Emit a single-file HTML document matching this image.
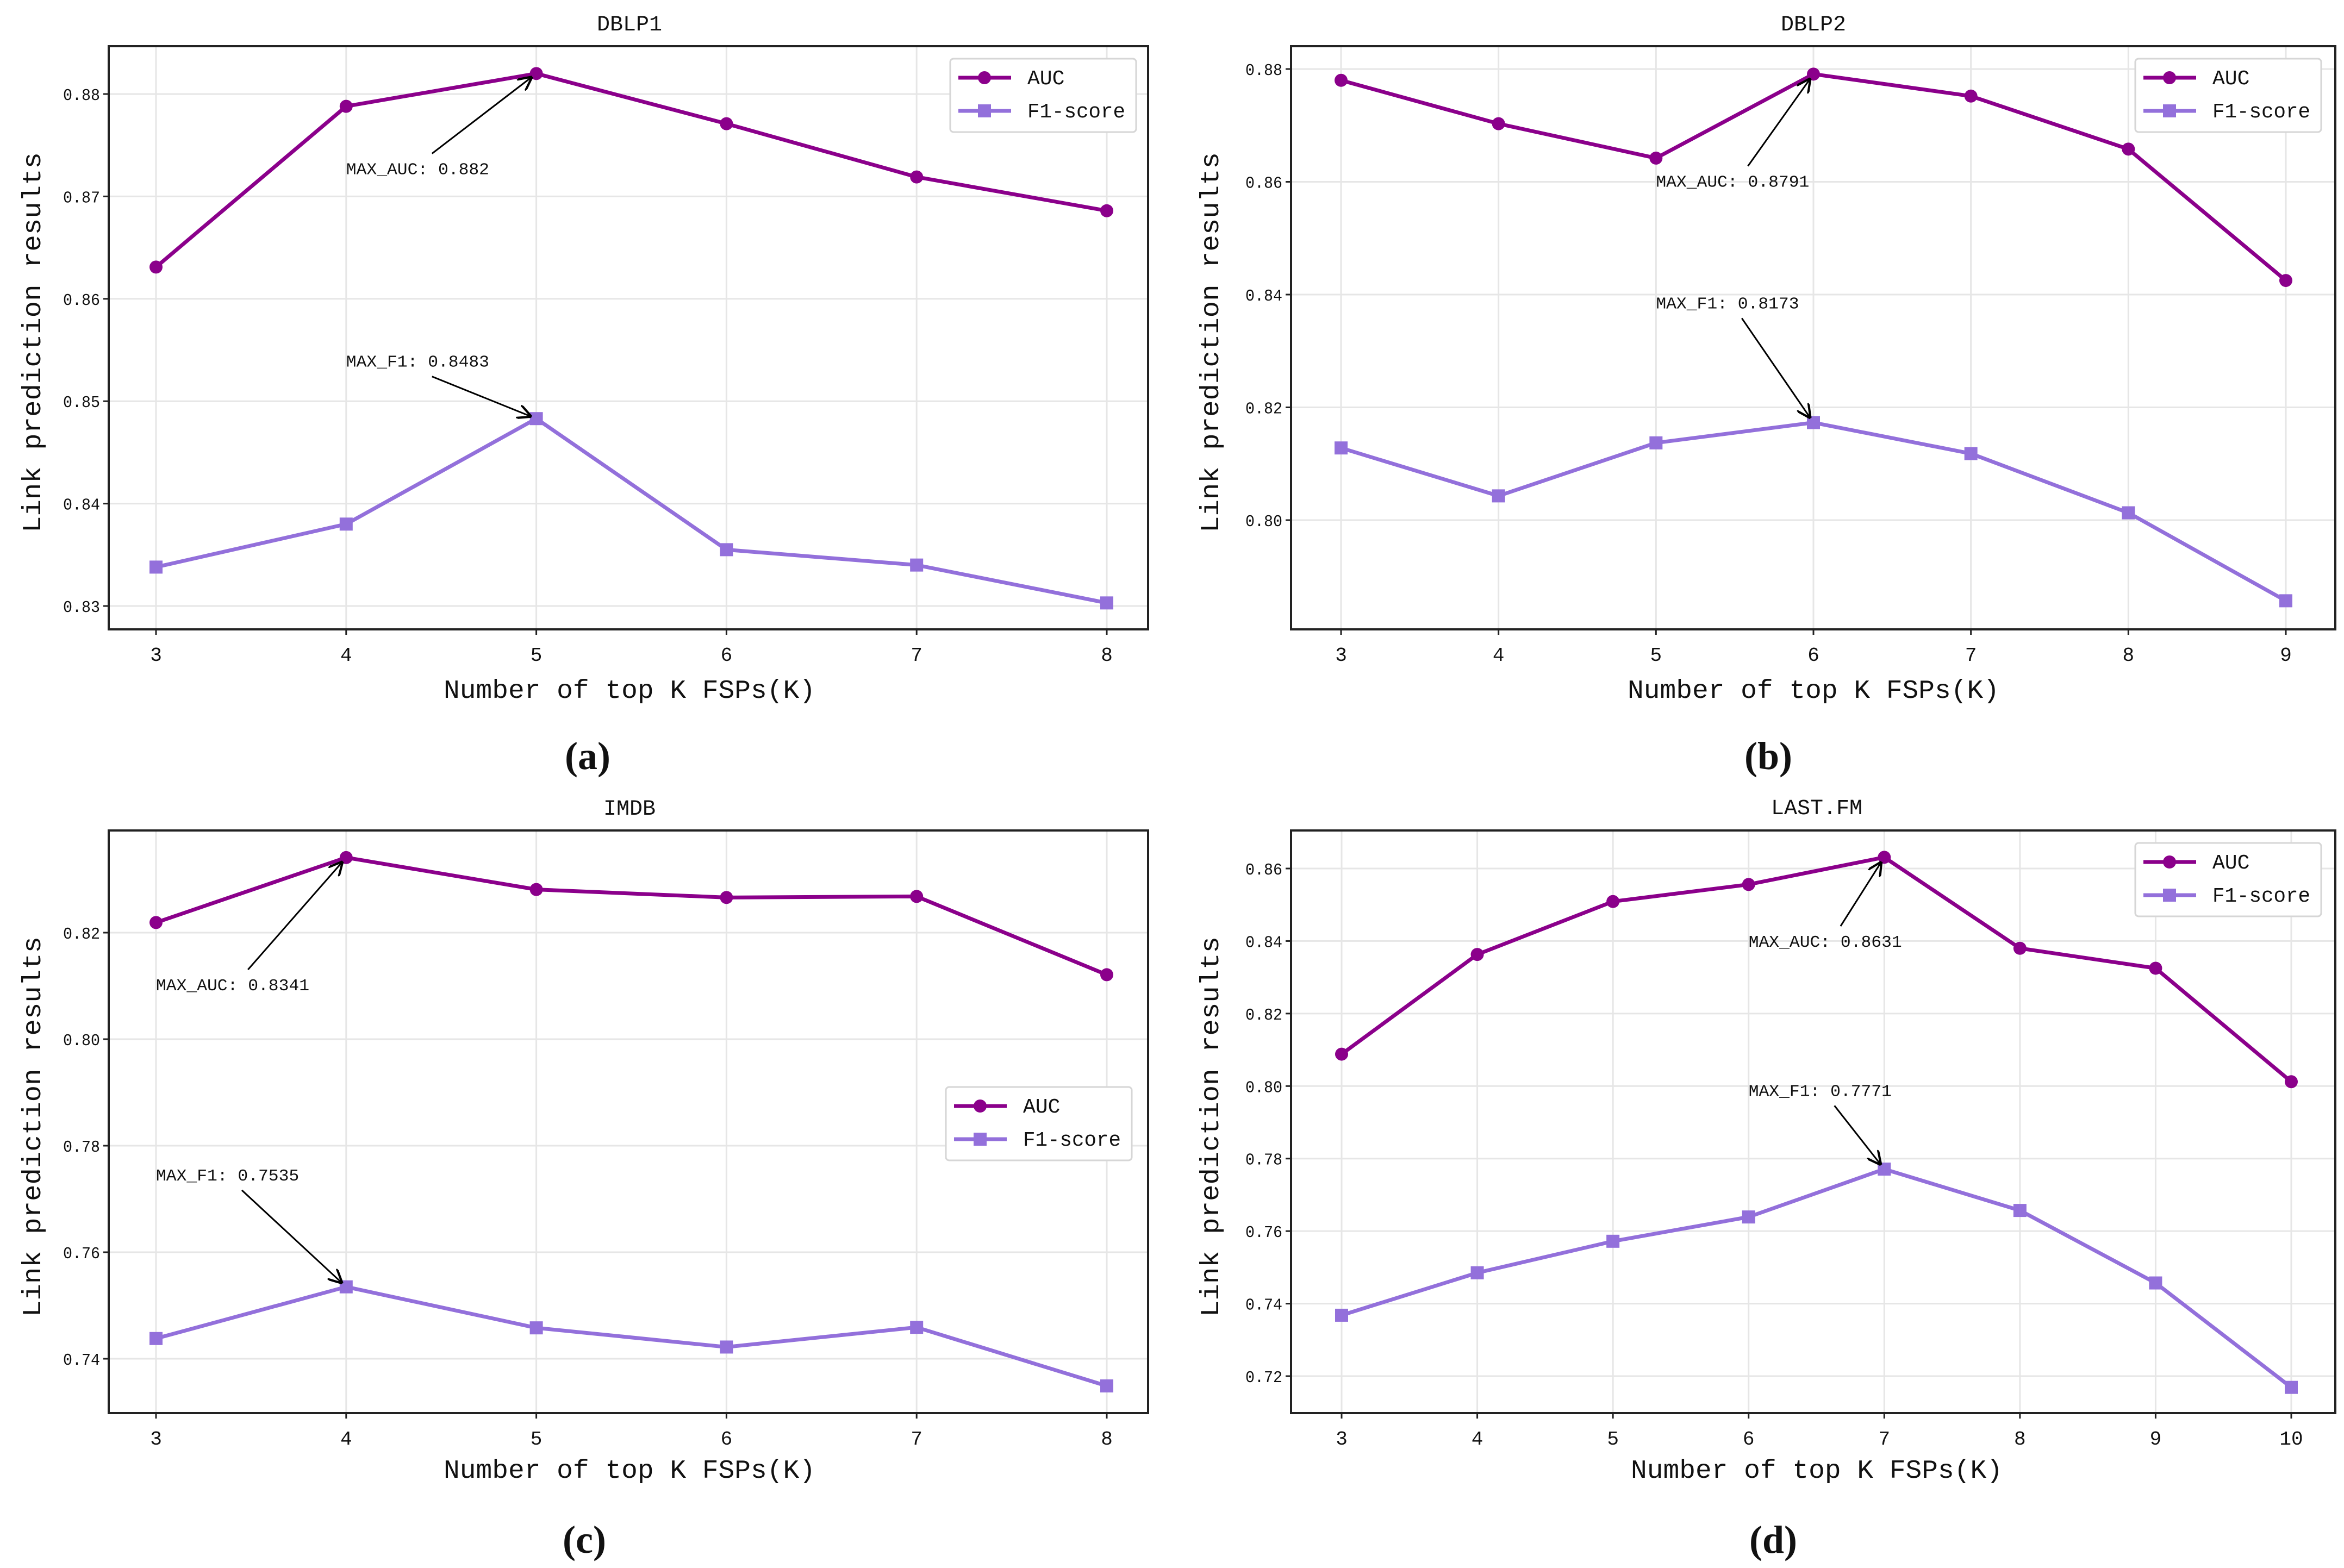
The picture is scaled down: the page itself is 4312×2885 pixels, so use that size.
<!DOCTYPE html>
<html><head><meta charset="utf-8"><style>
html,body{margin:0;padding:0;background:#fff;}
svg{display:block;}
text{font-family:"Liberation Mono","Noto Sans CJK SC",monospace;fill:#111;}
.lbl{font-family:"Liberation Serif",serif;font-weight:bold;}
</style></head><body>
<svg id="chart" xmlns="http://www.w3.org/2000/svg" width="4312" height="2885" viewBox="0 0 4312 2885"></svg>
<script>
// ---- data ----
const catsA = [3,4,5,6,7,8];
const aucA = [0.8631,0.8788,0.882,0.8771,0.8719,0.8686];
const f1A = [0.8338,0.8380,0.8483,0.8355,0.8340,0.8303];
const yTicksA = [0.83,0.84,0.85,0.86,0.87,0.88];

const catsB = [3,4,5,6,7,8,9];
const aucB = [0.8780,0.8703,0.8642,0.8791,0.8752,0.8658,0.8425];
const f1B = [0.8128,0.8043,0.8137,0.8173,0.8118,0.8013,0.7857];
const yTicksB = [0.80,0.82,0.84,0.86,0.88];

const catsC = [3,4,5,6,7,8];
const aucC = [0.8219,0.8341,0.8281,0.8266,0.8268,0.8121];
const f1C = [0.7438,0.7535,0.7458,0.7422,0.7459,0.7349];
const yTicksC = [0.74,0.76,0.78,0.80,0.82];

const catsD = [3,4,5,6,7,8,9,10];
const aucD = [0.8088,0.8363,0.8509,0.8556,0.8631,0.8380,0.8325,0.8012];
const f1D = [0.7368,0.7485,0.7572,0.7639,0.7771,0.7657,0.7457,0.7169];
const yTicksD = [0.72,0.74,0.76,0.78,0.80,0.82,0.84,0.86];

const titles = ["DBLP1","DBLP2","IMDB","LAST.FM"];
const letters = ["(a)","(b)","(c)","(d)"];

const NS = "http://www.w3.org/2000/svg";
const svg = document.getElementById('chart');
function mk(tag, attrs, parent, txt){
  const e = document.createElementNS(NS, tag);
  for (const k in attrs) e.setAttribute(k, attrs[k]);
  if (txt !== undefined) e.textContent = txt;
  (parent||svg).appendChild(e);
  return e;
}
const defs = mk('defs',{});
const mkr = mk('marker',{id:'ah',viewBox:'0 0 10 10',refX:'9',refY:'5',markerWidth:'26',markerHeight:'26',orient:'auto-start-reverse',markerUnits:'userSpaceOnUse'},defs);
mk('path',{d:'M0,0 L10,5 L0,10',fill:'none',stroke:'#000','stroke-width':'1.6'},mkr);

const panels = [
 {cats:catsA,auc:aucA,f1:f1A,ticks:yTicksA,L:200,R:2112,T:85,B:1158,x0px:287,x1px:2036,t0:0.83,t0px:1115,t1:0.88,t1px:173,
  ann:[[4,0.8727],[4,0.8539]],leg:[1748,108],title:[1158,42],xl:[1158,1268],yl:[58,630],let:[1081,1391]},
 {cats:catsB,auc:aucB,f1:f1B,ticks:yTicksB,L:2375,R:4296,T:85,B:1158,x0px:2467,x1px:4205,t0:0.80,t0px:957,t1:0.88,t1px:127,
  ann:[[5,0.8601],[5,0.8385]],leg:[3928,108],title:[3336,42],xl:[3336,1268],yl:[2225,630],let:[3253,1391]},
 {cats:catsC,auc:aucC,f1:f1C,ticks:yTicksC,L:200,R:2112,T:1528,B:2600,x0px:287,x1px:2036,t0:0.74,t0px:2500,t1:0.82,t1px:1716,
  ann:[[3,0.8102],[3,0.7745]],leg:[1740,2000],title:[1158,1485],xl:[1158,2703],yl:[58,2073],let:[1075,2833]},
 {cats:catsD,auc:aucD,f1:f1D,ticks:yTicksD,L:2375,R:4296,T:1528,B:2600,x0px:2468,x1px:4215,t0:0.72,t0px:2532,t1:0.86,t1px:1598,
  ann:[[6,0.8399],[6,0.7988]],leg:[3928,1551],title:[3342,1484],xl:[3342,2703],yl:[2225,2073],let:[3262,2833]}
];

panels.forEach((p,pi)=>{
  const g = mk('g',{});
  
  
  const c0 = p.cats[0], c1 = p.cats[p.cats.length-1];
  const X = v => p.x0px + (v-c0)/(c1-c0)*(p.x1px-p.x0px);
  const Y = v => p.t0px + (v-p.t0)/(p.t1-p.t0)*(p.t1px-p.t0px);
  p.cats.forEach(c=>{
    const l = mk('line',{x1:X(c),x2:X(c),y1:p.T,y2:p.B,stroke:'#e6e6e6','stroke-width':3},g);
     
  });
  p.ticks.forEach(t=>{
    const l = mk('line',{x1:p.L,x2:p.R,y1:Y(t),y2:Y(t),stroke:'#e6e6e6','stroke-width':3},g);
     
  });
  const box = mk('rect',{x:p.L,y:p.T,width:p.R-p.L,height:p.B-p.T,fill:'none',stroke:'#222','stroke-width':4},g);
   
  p.cats.forEach(c=>{
    mk('line',{x1:X(c),x2:X(c),y1:p.B,y2:p.B+10,stroke:'#222','stroke-width':3},g);
    const t = mk('text',{x:X(c),y:p.B+58,'text-anchor':'middle','font-size':36},g,String(c));
     
  });
  p.ticks.forEach(v=>{
    mk('line',{x1:p.L-10,x2:p.L,y1:Y(v),y2:Y(v),stroke:'#222','stroke-width':3},g);
    const t = mk('text',{x:p.L-16,y:Y(v)+11,'text-anchor':'end','font-size':31,textLength:68,lengthAdjust:'spacingAndGlyphs'},g,v.toFixed(2));
     
  });
  const tt = mk('text',{x:p.title[0],y:p.title[1]+14,'text-anchor':'middle','font-size':40},g,titles[pi]);
   
  const xl = mk('text',{x:p.xl[0],y:p.xl[1]+16,'text-anchor':'middle','font-size':48,textLength:684,lengthAdjust:'spacingAndGlyphs'},g,'Number of top K FSPs(K)');
   
  const yl = mk('text',{x:0,y:0,'text-anchor':'middle','font-size':48,textLength:700,lengthAdjust:'spacingAndGlyphs',transform:`translate(${p.yl[0]+16},${p.yl[1]}) rotate(-90)`},g,'Link prediction results');
   
  const lt = mk('text',{x:p.let[0],y:p.let[1]+24,'text-anchor':'middle','font-size':72,'class':'lbl'},g,letters[pi]);
   
  const ptsA = p.cats.map((c,i)=>X(c)+','+Y(p.auc[i])).join(' ');
  const la = mk('polyline',{points:ptsA,fill:'none',stroke:'#8B008B','stroke-width':7,'stroke-linejoin':'round'},g);
   
  p.cats.forEach((c,i)=>{
    const m = mk('circle',{cx:X(c),cy:Y(p.auc[i]),r:12,fill:'#8B008B'},g);
     
  });
  const ptsF = p.cats.map((c,i)=>X(c)+','+Y(p.f1[i])).join(' ');
  const lf = mk('polyline',{points:ptsF,fill:'none',stroke:'#9370DB','stroke-width':7,'stroke-linejoin':'round'},g);
   
  p.cats.forEach((c,i)=>{
    const m = mk('rect',{x:X(c)-12,y:Y(p.f1[i])-12,width:24,height:24,fill:'#9370DB'},g);
     
  });
  [['MAX_AUC',p.auc,p.ann[0]],['MAX_F1',p.f1,p.ann[1]]].forEach(([lab,arr,pos],k)=>{
    let mi=0; arr.forEach((v,i)=>{ if(v>arr[mi]) mi=i; });
    const mx = X(p.cats[mi]), my = Y(arr[mi]);
    const tx = X(pos[0]), ty = Y(pos[1]);
    const str = lab+': '+arr[mi].toFixed(4).replace(/0+$/,'');
    const tw = str.length*18.8;
    const t = mk('text',{x:tx,y:ty+10,'font-size':31,textLength:tw,lengthAdjust:'spacingAndGlyphs'},g,str);
     
    const ax = tx + tw*0.6;
    const ay = my < ty ? ty-28 : ty+28;
    const dx = mx-ax, dy = my-ay, d = Math.hypot(dx,dy);
    const a = mk('line',{x1:ax,y1:ay,x2:mx-dx/d*12,y2:my-dy/d*12,stroke:'#000','stroke-width':3,'marker-end':'url(#ah)'},g);
     
  });
  const lx = p.leg[0], ly = p.leg[1];
  const lg = mk('g',{},g);
   
  mk('rect',{x:lx,y:ly,width:342,height:135,rx:6,fill:'#fff',stroke:'#d6d6d6','stroke-width':3},lg);
  mk('line',{x1:lx+15,x2:lx+112,y1:ly+35,y2:ly+35,stroke:'#8B008B','stroke-width':7},lg);
  mk('circle',{cx:lx+63,cy:ly+35,r:12,fill:'#8B008B'},lg);
  const e1 = mk('text',{x:lx+142,y:ly+47,'font-size':38},lg,'AUC');
   
  mk('line',{x1:lx+15,x2:lx+112,y1:ly+96,y2:ly+96,stroke:'#9370DB','stroke-width':7},lg);
  mk('rect',{x:lx+51,y:ly+84,width:24,height:24,fill:'#9370DB'},lg);
  const e2 = mk('text',{x:lx+142,y:ly+108,'font-size':38,textLength:180,lengthAdjust:'spacingAndGlyphs'},lg,'F1-score');
   
});
</script>
</body></html>
